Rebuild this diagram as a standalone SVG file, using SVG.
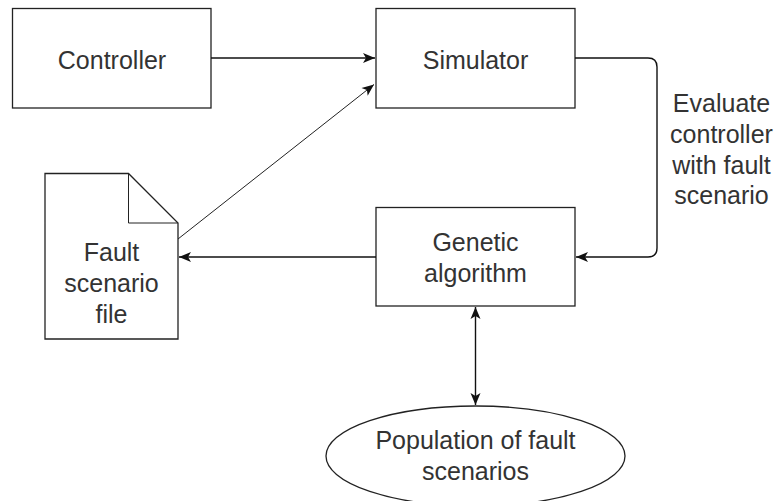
<svg xmlns="http://www.w3.org/2000/svg" width="779" height="501" viewBox="0 0 779 501">
<style>
.box{fill:#fff;stroke:#222;stroke-width:1.3}
.lbl{font-family:"Liberation Sans",Arial,sans-serif;font-size:25px;fill:#333;text-anchor:middle}
.edge{fill:none;stroke:#111;stroke-width:1.4}
.thin{fill:none;stroke:#222;stroke-width:1}
</style>
<defs>
<marker id="arr" markerUnits="userSpaceOnUse" markerWidth="16" markerHeight="16" viewBox="0 0 16 16" refX="13" refY="8" orient="auto-start-reverse">
<path d="M1,3 L13,8 L1,13 L4,8 Z" fill="#111"/>
</marker>
</defs>
<g id="controller">
<rect class="box" x="12.5" y="8.5" width="198.5" height="99.5"/>
<text class="lbl" x="112" y="68.5">Controller</text>
</g>
<g id="simulator">
<rect class="box" x="376" y="8.5" width="199" height="99.5"/>
<text class="lbl" x="475.5" y="68.5">Simulator</text>
</g>
<g id="genetic">
<rect class="box" x="376" y="207.5" width="199" height="98.5"/>
<text class="lbl" x="475.5" y="251">Genetic</text>
<text class="lbl" x="475.5" y="282">algorithm</text>
</g>
<g id="faultfile">
<path class="box" d="M45,173.5 H128.5 L178,223 V339 H45 Z"/>
<path class="thin" d="M128.5,173.5 V223 H178"/>
<text class="lbl" x="111.5" y="261">Fault</text>
<text class="lbl" x="111.5" y="292">scenario</text>
<text class="lbl" x="111.5" y="323">file</text>
</g>
<g id="population">
<ellipse class="box" cx="475.5" cy="456" rx="149.5" ry="50"/>
<text class="lbl" x="475.5" y="449">Population of fault</text>
<text class="lbl" x="475.5" y="480">scenarios</text>
</g>
<g id="connectors">
<line class="edge" x1="211" y1="58" x2="375" y2="58" marker-end="url(#arr)"/>
<line class="thin" x1="178" y1="239" x2="374" y2="84.5" marker-end="url(#arr)"/>
<path class="edge" d="M575,58 H648 Q657,58 657,67 V248 Q657,257 648,257 H576" marker-end="url(#arr)"/>
<line class="edge" x1="376" y1="257" x2="179" y2="257" marker-end="url(#arr)"/>
<line class="edge" x1="475.5" y1="307" x2="475.5" y2="405" marker-start="url(#arr)" marker-end="url(#arr)"/>
<g id="edge-label">
<text class="lbl" x="721.5" y="112">Evaluate</text>
<text class="lbl" x="721.5" y="143">controller</text>
<text class="lbl" x="721.5" y="174">with fault</text>
<text class="lbl" x="721.5" y="204">scenario</text>
</g>
</g>
</svg>
